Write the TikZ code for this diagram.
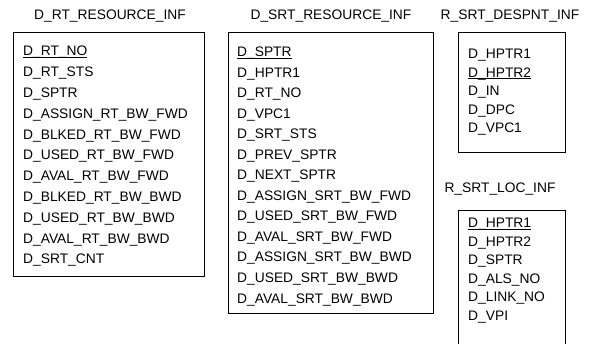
\documentclass[tikz,border=0pt]{standalone}
\usepackage{fontspec}
\setmainfont{Liberation Sans}
\newcommand{\myul}[1]{\setbox0\hbox{#1}\rlap{\rule[-0.14em]{\wd0}{0.07em}}\box0}
\tikzset{
  title/.style={inner sep=0pt, font=\fontsize{13.8}{14}\selectfont, anchor=base},
  field/.style={inner sep=0pt, font=\fontsize{13.8}{14}\selectfont, anchor=base west},
  tbl/.style={draw, line width=0.8pt, inner sep=0pt, anchor=north west},
}
\begin{document}
\begin{tikzpicture}[x=1pt,y=-1pt]
\useasboundingbox (0,0) rectangle (615,344);
% titles
\node[title] (t1) at (110,20) {D\_RT\_RESOURCE\_INF};
\node[title] (t2) at (331,20) {D\_SRT\_RESOURCE\_INF};
\node[title] (t3) at (510,20) {R\_SRT\_DESPNT\_INF};
\node[title] (t4) at (500,193) {R\_SRT\_LOC\_INF};
% boxes
\node[tbl, minimum width=191pt, minimum height=244pt] (b1) at (13,32) {};
\node[tbl, minimum width=205pt, minimum height=281pt] (b2) at (228,32) {};
\node[tbl, minimum width=107pt, minimum height=120pt] (b3) at (458,32) {};
\node[tbl, minimum width=107pt, minimum height=140pt] (b4) at (458,210) {};
% box 1 fields
\foreach \t [count=\i from 0] in {\myul{D\_RT\_NO},D\_RT\_STS,D\_SPTR,D\_ASSIGN\_RT\_BW\_FWD,D\_BLKED\_RT\_BW\_FWD,D\_USED\_RT\_BW\_FWD,D\_AVAL\_RT\_BW\_FWD,D\_BLKED\_RT\_BW\_BWD,D\_USED\_RT\_BW\_BWD,D\_AVAL\_RT\_BW\_BWD,D\_SRT\_CNT}
  \node[field] (f1-\i) at (23,{56+20.8*\i}) {\t};
% box 2 fields
\foreach \t [count=\i from 0] in {\myul{D\_SPTR},D\_HPTR1,D\_RT\_NO,D\_VPC1,D\_SRT\_STS,D\_PREV\_SPTR,D\_NEXT\_SPTR,D\_ASSIGN\_SRT\_BW\_FWD,D\_USED\_SRT\_BW\_FWD,D\_AVAL\_SRT\_BW\_FWD,D\_ASSIGN\_SRT\_BW\_BWD,D\_USED\_SRT\_BW\_BWD,D\_AVAL\_SRT\_BW\_BWD}
  \node[field] (f2-\i) at (237,{57+20.5*\i}) {\t};
% box 3 fields
\foreach \t [count=\i from 0] in {D\_HPTR1,\myul{D\_HPTR2},D\_IN,D\_DPC,D\_VPC1}
  \node[field] (f3-\i) at (468,{59+18.5*\i}) {\t};
% box 4 fields
\foreach \t [count=\i from 0] in {\myul{D\_HPTR1},D\_HPTR2,D\_SPTR,D\_ALS\_NO,D\_LINK\_NO,D\_VPI}
  \node[field] (f4-\i) at (468,{228+18.4*\i}) {\t};
\end{tikzpicture}
\end{document}
